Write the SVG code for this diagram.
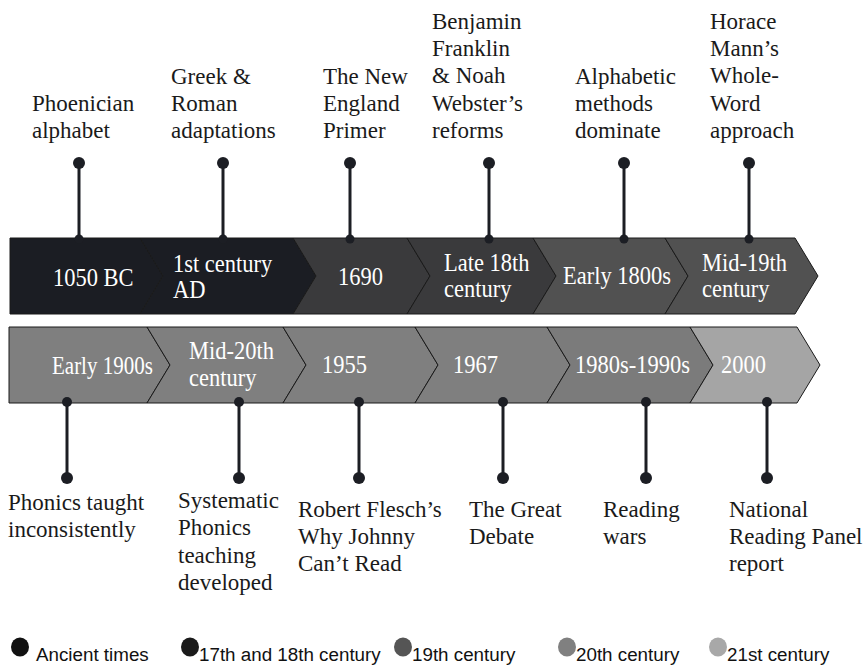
<svg xmlns="http://www.w3.org/2000/svg" width="865" height="665" viewBox="0 0 865 665">
<style>
.lbl{font-family:"Liberation Serif","Times New Roman",serif;font-size:23px;fill:#1a1a1a}
.dt{font-family:"Liberation Serif","Times New Roman",serif;font-size:22.5px;fill:#ffffff}
.chev{stroke:#1a1a1a;stroke-width:1}
.c1{fill:#1b1d23}.c2{fill:#3a3a3c}.c3{fill:#515151}.c4{fill:#7f7f7f}.c4b{fill:#7b7b7b}.c5{fill:#a5a5a5}
.stem{stroke:#1c1e24;stroke-width:3}
.dot{fill:#1c1e24}
.lg{font-family:"Liberation Sans",Arial,sans-serif;font-size:18.8px;fill:#111}
</style>
<rect width="865" height="665" fill="#ffffff"/>
<g id="e1">
<polygon class="chev c1" points="10,238 140,238 163,276 140,314 10,314"/>
<text class="dt" transform="translate(53,286) scale(1,1.15)">1050 BC</text>
<text class="lbl"><tspan x="32" y="111">Phoenician</tspan><tspan x="32" y="138">alphabet</tspan></text>
</g>
<g id="e2">
<polygon class="chev c1" points="140,238 293,238 316,276 293,314 140,314 163,276"/>
<text class="dt" transform="translate(173,272) scale(1,1.15)">1st century</text>
<text class="dt" transform="translate(173,298) scale(1,1.15)">AD</text>
<text class="lbl"><tspan x="171" y="84">Greek &amp;</tspan><tspan x="171" y="111">Roman</tspan><tspan x="171" y="138">adaptations</tspan></text>
</g>
<g id="e3">
<polygon class="chev c2" points="293,238 407,238 430,276 407,314 293,314 316,276"/>
<text class="dt" transform="translate(338,285) scale(1,1.15)">1690</text>
<text class="lbl"><tspan x="323" y="84">The New</tspan><tspan x="323" y="111">England</tspan><tspan x="323" y="138">Primer</tspan></text>
</g>
<g id="e4">
<polygon class="chev c2" points="407,238 533,238 556,276 533,314 407,314 430,276"/>
<text class="dt" transform="translate(444,271) scale(1,1.15)">Late 18th</text>
<text class="dt" transform="translate(444,297) scale(1,1.15)">century</text>
<text class="lbl"><tspan x="432" y="29">Benjamin</tspan><tspan x="432" y="56">Franklin</tspan><tspan x="432" y="83">&amp; Noah</tspan><tspan x="432" y="111">Webster’s</tspan><tspan x="432" y="138">reforms</tspan></text>
</g>
<g id="e5">
<polygon class="chev c3" points="533,238 665,238 688,276 665,314 533,314 556,276"/>
<text class="dt" transform="translate(563,284) scale(1,1.15)">Early 1800s</text>
<text class="lbl"><tspan x="575" y="84">Alphabetic</tspan><tspan x="575" y="111">methods</tspan><tspan x="575" y="138">dominate</tspan></text>
</g>
<g id="e6">
<polygon class="chev c3" points="665,238 795,238 818,276 795,314 665,314 688,276"/>
<text class="dt" transform="translate(702,271) scale(1,1.15)">Mid-19th</text>
<text class="dt" transform="translate(702,297) scale(1,1.15)">century</text>
<text class="lbl"><tspan x="710" y="29">Horace</tspan><tspan x="710" y="56">Mann’s</tspan><tspan x="710" y="83">Whole-</tspan><tspan x="710" y="111">Word</tspan><tspan x="710" y="138">approach</tspan></text>
</g>
<g id="e7">
<polygon class="chev c4" points="9,327 147,327 170,365 147,403 9,403"/>
<text class="dt" style="font-size:21px" transform="translate(52,374) scale(1,1.15)">Early 1900s</text>
<text class="lbl"><tspan x="8" y="510">Phonics taught</tspan><tspan x="8" y="537">inconsistently</tspan></text>
</g>
<g id="e8">
<polygon class="chev c4" points="147,327 283,327 306,365 283,403 147,403 170,365"/>
<text class="dt" transform="translate(189,359) scale(1,1.15)">Mid-20th</text>
<text class="dt" transform="translate(189,386) scale(1,1.15)">century</text>
<text class="lbl"><tspan x="178" y="508">Systematic</tspan><tspan x="178" y="535">Phonics</tspan><tspan x="178" y="563">teaching</tspan><tspan x="178" y="590">developed</tspan></text>
</g>
<g id="e9">
<polygon class="chev c4" points="283,327 415,327 438,365 415,403 283,403 306,365"/>
<text class="dt" transform="translate(322,373) scale(1,1.15)">1955</text>
<text class="lbl"><tspan x="298" y="517">Robert Flesch’s</tspan><tspan x="298" y="544">Why Johnny</tspan><tspan x="298" y="571">Can’t Read</tspan></text>
</g>
<g id="e10">
<polygon class="chev c4" points="415,327 547,327 570,365 547,403 415,403 438,365"/>
<text class="dt" transform="translate(453,373) scale(1,1.15)">1967</text>
<text class="lbl"><tspan x="469" y="517">The Great</tspan><tspan x="469" y="544">Debate</tspan></text>
</g>
<g id="e11">
<polygon class="chev c4b" points="547,327 690,327 713,365 690,403 547,403 570,365"/>
<text class="dt" transform="translate(575,373) scale(1,1.15)">1980s-1990s</text>
<text class="lbl"><tspan x="603" y="517">Reading</tspan><tspan x="603" y="544">wars</tspan></text>
</g>
<g id="e12">
<polygon class="chev c5" points="690,327 797,327 820,365 797,403 690,403 713,365"/>
<text class="dt" transform="translate(721,373) scale(1,1.15)">2000</text>
<text class="lbl"><tspan x="729" y="517">National</tspan><tspan x="729" y="544">Reading Panel</tspan><tspan x="729" y="571">report</tspan></text>
</g>
<g id="connectors">
<line class="stem" x1="79" y1="163" x2="79" y2="238"/><circle class="dot" cx="79" cy="163" r="6"/><circle class="dot" cx="79" cy="239" r="4.5"/>
<line class="stem" x1="223" y1="163" x2="223" y2="238"/><circle class="dot" cx="223" cy="163" r="6"/><circle class="dot" cx="223" cy="239" r="4.5"/>
<line class="stem" x1="350" y1="163" x2="350" y2="238"/><circle class="dot" cx="350" cy="163" r="6"/><circle class="dot" cx="350" cy="239" r="4.5"/>
<line class="stem" x1="489" y1="163" x2="489" y2="238"/><circle class="dot" cx="489" cy="163" r="6"/><circle class="dot" cx="489" cy="239" r="4.5"/>
<line class="stem" x1="624" y1="163" x2="624" y2="238"/><circle class="dot" cx="624" cy="163" r="6"/><circle class="dot" cx="624" cy="239" r="4.5"/>
<line class="stem" x1="749" y1="163" x2="749" y2="238"/><circle class="dot" cx="749" cy="163" r="6"/><circle class="dot" cx="749" cy="239" r="4.5"/>
<line class="stem" x1="67" y1="403" x2="67" y2="478"/><circle class="dot" cx="67" cy="478" r="6"/><circle class="dot" cx="67" cy="402" r="5"/>
<line class="stem" x1="239" y1="403" x2="239" y2="478"/><circle class="dot" cx="239" cy="478" r="6"/><circle class="dot" cx="239" cy="402" r="5"/>
<line class="stem" x1="359" y1="403" x2="359" y2="478"/><circle class="dot" cx="359" cy="478" r="6"/><circle class="dot" cx="359" cy="402" r="5"/>
<line class="stem" x1="503" y1="403" x2="503" y2="478"/><circle class="dot" cx="503" cy="478" r="6"/><circle class="dot" cx="503" cy="402" r="5"/>
<line class="stem" x1="646" y1="403" x2="646" y2="478"/><circle class="dot" cx="646" cy="478" r="6"/><circle class="dot" cx="646" cy="402" r="5"/>
<line class="stem" x1="767" y1="403" x2="767" y2="478"/><circle class="dot" cx="767" cy="478" r="6"/><circle class="dot" cx="767" cy="402" r="5"/>
</g>
<g id="legend">
<ellipse cx="20" cy="647" rx="9" ry="9.5" fill="#111111"/><text class="lg" x="36" y="661">Ancient times</text>
<ellipse cx="190" cy="647" rx="9" ry="9.5" fill="#1a1a1a"/><text class="lg" x="199" y="661">17th and 18th century</text>
<ellipse cx="403" cy="647" rx="9" ry="9.5" fill="#555555"/><text class="lg" x="412" y="661">19th century</text>
<ellipse cx="567" cy="647" rx="9" ry="9.5" fill="#808080"/><text class="lg" x="576" y="661">20th century</text>
<ellipse cx="718" cy="647" rx="9" ry="9.5" fill="#a8a8a8"/><text class="lg" x="727" y="661">21st century</text>
</g>
</svg>
